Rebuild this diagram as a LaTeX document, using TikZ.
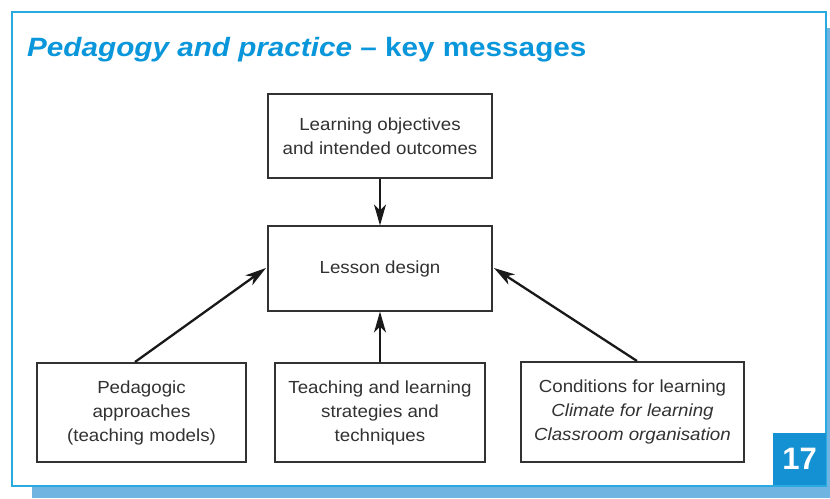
\documentclass[tikz,border=0pt]{standalone}
\usepackage{fontspec}
\setmainfont{Liberation Sans}
\newfontfamily\headfont[FakeStretch=1.12]{Liberation Sans}
\newfontfamily\boxfont[FakeStretch=1.07]{Liberation Sans}
\usetikzlibrary{arrows.meta}
\definecolor{framebl}{RGB}{41,171,226}
\definecolor{titlebl}{RGB}{10,150,218}
\definecolor{shadebl}{RGB}{112,180,225}
\definecolor{badgebl}{RGB}{20,145,210}
\definecolor{inkgray}{RGB}{50,50,50}
\begin{document}
\begin{tikzpicture}[x=1pt,y=-1pt,
  box/.style={draw=inkgray,line width=1.1pt,fill=white,minimum width=#1,
    align=center,text=inkgray,font=\boxfont\fontsize{17.5}{24}\selectfont,inner sep=0pt},
  box/.default=224pt,
  flow/.style={draw=black!90,line width=1.4pt,-{Stealth[length=21pt,width=12pt,inset=6pt]}},
  bigflow/.style={flow,line width=2.3pt}]
\useasboundingbox (0,0) rectangle (830,498);
% page shadow and frame
\fill[shadebl] (32,486) rectangle (830,498);
\fill[shadebl] (826,28) rectangle (830,498);
\draw[framebl,line width=1.3pt,fill=white] (12,12) rectangle (826,486);
% heading
\node[anchor=base west,text=titlebl,font=\headfont\fontsize{26.5}{30}\selectfont\bfseries,inner sep=0pt]
  (title) at (27,56) {\textit{Pedagogy and practice} – key messages};
% page number badge
\node[fill=badgebl,text=white,font=\fontsize{31}{34}\selectfont\bfseries,
  minimum width=53pt,minimum height=52pt,inner sep=0pt] (page) at (799.5,459) {17};
% boxes
\node[box,minimum height=84pt] (obj) at (380,136) {Learning objectives\\and intended outcomes};
\node[box,minimum height=85pt] (les) at (380,268.5) {Lesson design};
\node[box=209pt,minimum height=99pt] (ped) at (141.5,412.5) {Pedagogic\\approaches\\(teaching models)};
\node[box=210pt,minimum height=99pt] (tls) at (380,412.5) {Teaching and learning\\strategies and\\techniques};
\node[box=223pt,minimum height=100pt] (con) at (632.5,412) {Conditions for learning\\\textit{Climate for learning}\\\textit{Classroom organisation}};
% connectors
\coordinate (pedtop) at (135,362);
\coordinate (contop) at (637,361);
\coordinate (lesL) at (266,268);
\coordinate (lesR) at (494,268);
\draw[flow] (obj.south) -- (les.north);
\draw[flow] (tls.north) -- (les.south);
\draw[bigflow] (pedtop) -- (lesL);
\draw[bigflow] (contop) -- (lesR);
\end{tikzpicture}
\end{document}
